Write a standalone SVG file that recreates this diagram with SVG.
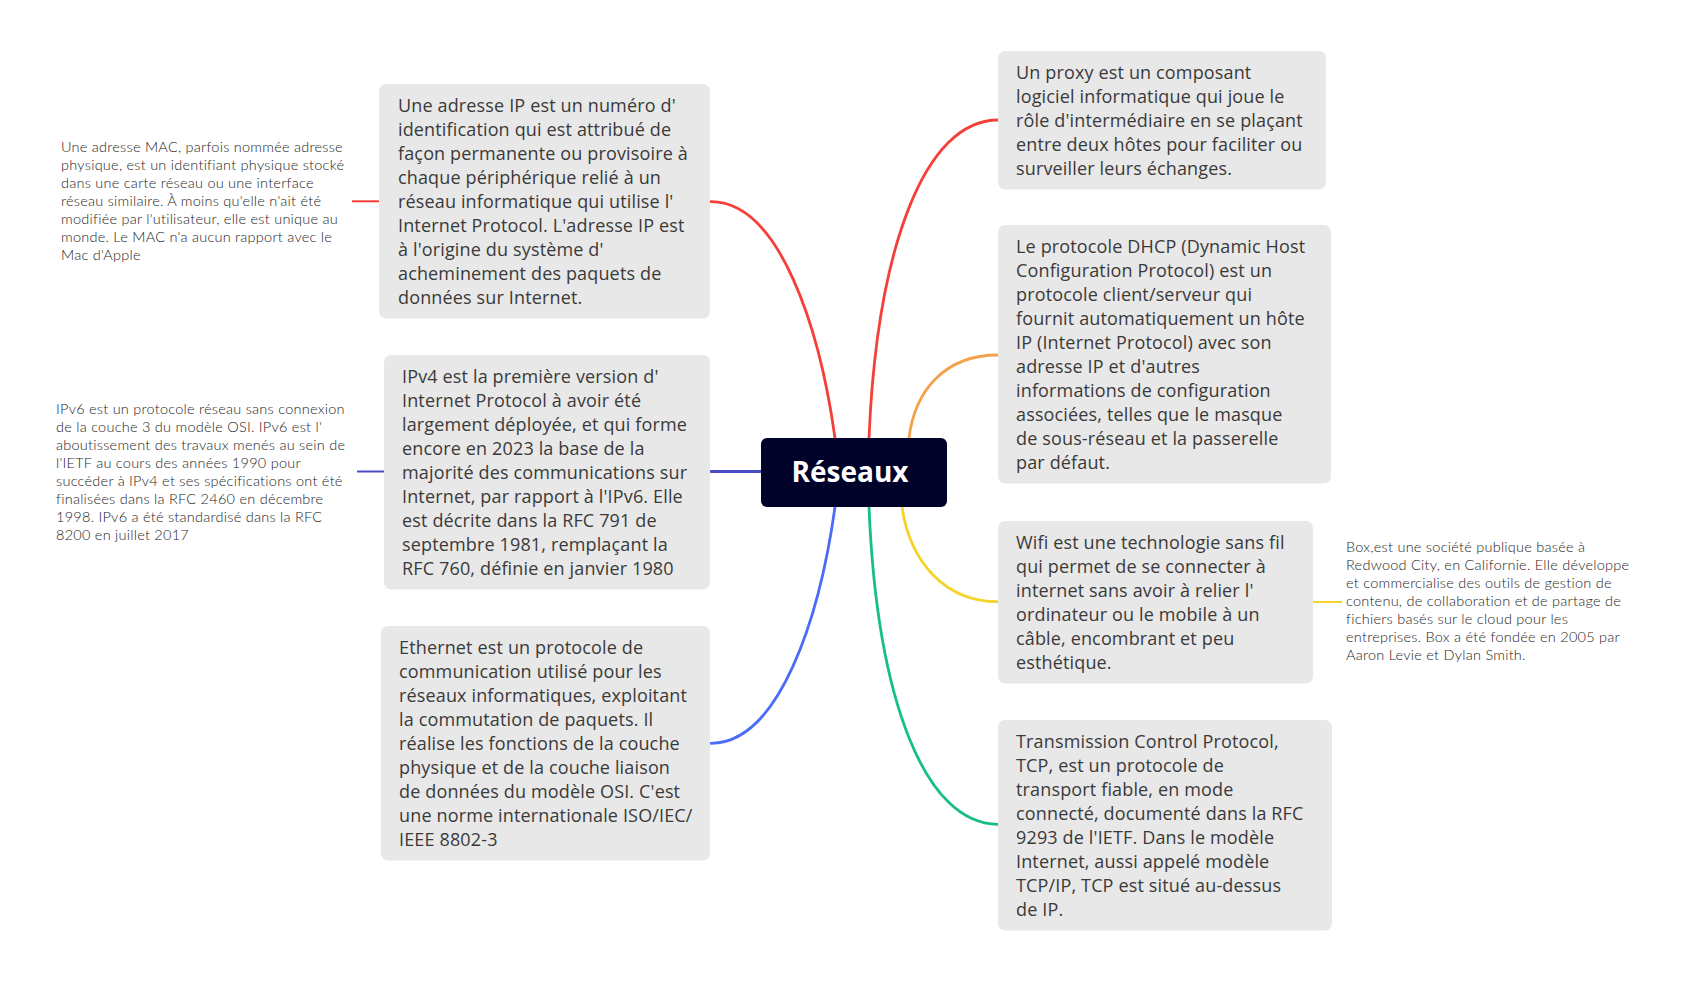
<svg xmlns="http://www.w3.org/2000/svg" width="1690" height="981" viewBox="0 0 1690 981">
<style>
.box{fill:#e8e8e8}
.t{font-family:"Open Sans","Liberation Sans",sans-serif;font-size:18px;letter-spacing:0.15px;fill:#3a3a3a}
.n{font-family:Lato,"Liberation Sans",sans-serif;font-weight:300;font-size:14.5px;letter-spacing:0.25px;fill:#1e1e1e}
.c{fill:none;stroke-width:2.8;stroke-linecap:round}
.s{fill:none;stroke-width:2}
</style>
<rect width="1690" height="981" fill="#ffffff"/>
<g id="connectors">
<path class="c" stroke="#f5403a" d="M835,438 C820,330 780,201.7 711,201.7"/>
<path class="c" stroke="#4b4bc4" d="M761,471.5 L711,471.5"/>
<path class="c" stroke="#4a6cf7" d="M835,507 C820,615 780,743.3 711,743.3"/>
<path class="c" stroke="#f5403a" d="M869,438 C877,247 925,120 998,120"/>
<path class="c" stroke="#f5a04a" d="M909,438 C915,390 945,355 998,355"/>
<path class="c" stroke="#f5d327" d="M902,507 C910,562 945,601.7 998,601.7"/>
<path class="c" stroke="#17c082" d="M869,507 C877,700 925,824.3 998,824.3"/>
<path class="s" stroke="#f5403a" d="M352,201.3 L379,201.3"/>
<path class="s" stroke="#4b4bc4" d="M357,471.5 L384,471.5"/>
<path class="s" stroke="#f5d327" d="M1313,602 L1342,602"/>
</g>
<g id="root">
<rect x="761" y="438" width="186" height="69" rx="6" fill="#000229"/>
<text x="850" y="482" text-anchor="middle" font-family="'Open Sans','Liberation Sans',sans-serif" font-weight="700" font-size="28" fill="#ffffff">Réseaux</text>
</g>
<g id="ip">
<rect class="box" x="379" y="84" width="331" height="234.5" rx="7"/>
<text class="t"><tspan x="398" y="111.5">Une adresse IP est un numéro d'</tspan><tspan x="398" y="135.5">identification qui est attribué de</tspan><tspan x="398" y="159.5">façon permanente ou provisoire à</tspan><tspan x="398" y="183.5">chaque périphérique relié à un</tspan><tspan x="398" y="207.5">réseau informatique qui utilise l'</tspan><tspan x="398" y="231.5">Internet Protocol. L'adresse IP est</tspan><tspan x="398" y="255.5">à l'origine du système d'</tspan><tspan x="398" y="279.5">acheminement des paquets de</tspan><tspan x="398" y="303.5">données sur Internet.</tspan></text>
</g>
<g id="mac">
<text class="n"><tspan x="61" y="152">Une adresse MAC, parfois nommée adresse</tspan><tspan x="61" y="170">physique, est un identifiant physique stocké</tspan><tspan x="61" y="188">dans une carte réseau ou une interface</tspan><tspan x="61" y="206">réseau similaire. À moins qu'elle n'ait été</tspan><tspan x="61" y="224">modifiée par l'utilisateur, elle est unique au</tspan><tspan x="61" y="242">monde. Le MAC n'a aucun rapport avec le</tspan><tspan x="61" y="260">Mac d'Apple</tspan></text>
</g>
<g id="ipv4">
<rect class="box" x="384" y="355" width="326" height="234.5" rx="7"/>
<text class="t"><tspan x="402" y="382.5">IPv4 est la première version d'</tspan><tspan x="402" y="406.5">Internet Protocol à avoir été</tspan><tspan x="402" y="430.5">largement déployée, et qui forme</tspan><tspan x="402" y="454.5">encore en 2023 la base de la</tspan><tspan x="402" y="478.5">majorité des communications sur</tspan><tspan x="402" y="502.5">Internet, par rapport à l'IPv6. Elle</tspan><tspan x="402" y="526.5">est décrite dans la RFC 791 de</tspan><tspan x="402" y="550.5">septembre 1981, remplaçant la</tspan><tspan x="402" y="574.5">RFC 760, définie en janvier 1980</tspan></text>
</g>
<g id="ipv6">
<text class="n"><tspan x="56" y="414">IPv6 est un protocole réseau sans connexion</tspan><tspan x="56" y="432">de la couche 3 du modèle OSI. IPv6 est l'</tspan><tspan x="56" y="450">aboutissement des travaux menés au sein de</tspan><tspan x="56" y="468">l'IETF au cours des années 1990 pour</tspan><tspan x="56" y="486">succéder à IPv4 et ses spécifications ont été</tspan><tspan x="56" y="504">finalisées dans la RFC 2460 en décembre</tspan><tspan x="56" y="522">1998. IPv6 a été standardisé dans la RFC</tspan><tspan x="56" y="540">8200 en juillet 2017</tspan></text>
</g>
<g id="ethernet">
<rect class="box" x="381" y="626" width="329" height="234.5" rx="7"/>
<text class="t"><tspan x="399" y="653.5">Ethernet est un protocole de</tspan><tspan x="399" y="677.5">communication utilisé pour les</tspan><tspan x="399" y="701.5">réseaux informatiques, exploitant</tspan><tspan x="399" y="725.5">la commutation de paquets. Il</tspan><tspan x="399" y="749.5">réalise les fonctions de la couche</tspan><tspan x="399" y="773.5">physique et de la couche liaison</tspan><tspan x="399" y="797.5">de données du modèle OSI. C'est</tspan><tspan x="399" y="821.5">une norme internationale ISO/IEC/</tspan><tspan x="399" y="845.5">IEEE 8802-3</tspan></text>
</g>
<g id="proxy">
<rect class="box" x="998" y="51" width="328" height="138.5" rx="7"/>
<text class="t"><tspan x="1016" y="78.5">Un proxy est un composant</tspan><tspan x="1016" y="102.5">logiciel informatique qui joue le</tspan><tspan x="1016" y="126.5">rôle d'intermédiaire en se plaçant</tspan><tspan x="1016" y="150.5">entre deux hôtes pour faciliter ou</tspan><tspan x="1016" y="174.5">surveiller leurs échanges.</tspan></text>
</g>
<g id="dhcp">
<rect class="box" x="998" y="225" width="333" height="258.5" rx="7"/>
<text class="t"><tspan x="1016" y="252.5">Le protocole DHCP (Dynamic Host</tspan><tspan x="1016" y="276.5">Configuration Protocol) est un</tspan><tspan x="1016" y="300.5">protocole client/serveur qui</tspan><tspan x="1016" y="324.5">fournit automatiquement un hôte</tspan><tspan x="1016" y="348.5">IP (Internet Protocol) avec son</tspan><tspan x="1016" y="372.5">adresse IP et d'autres</tspan><tspan x="1016" y="396.5">informations de configuration</tspan><tspan x="1016" y="420.5">associées, telles que le masque</tspan><tspan x="1016" y="444.5">de sous-réseau et la passerelle</tspan><tspan x="1016" y="468.5">par défaut.</tspan></text>
</g>
<g id="wifi">
<rect class="box" x="998" y="521" width="315" height="162.5" rx="7"/>
<text class="t"><tspan x="1016" y="548.5">Wifi est une technologie sans fil</tspan><tspan x="1016" y="572.5">qui permet de se connecter à</tspan><tspan x="1016" y="596.5">internet sans avoir à relier l'</tspan><tspan x="1016" y="620.5">ordinateur ou le mobile à un</tspan><tspan x="1016" y="644.5">câble, encombrant et peu</tspan><tspan x="1016" y="668.5">esthétique.</tspan></text>
</g>
<g id="box">
<text class="n"><tspan x="1346" y="552">Box,est une société publique basée à</tspan><tspan x="1346" y="570">Redwood City, en Californie. Elle développe</tspan><tspan x="1346" y="588">et commercialise des outils de gestion de</tspan><tspan x="1346" y="606">contenu, de collaboration et de partage de</tspan><tspan x="1346" y="624">fichiers basés sur le cloud pour les</tspan><tspan x="1346" y="642">entreprises. Box a été fondée en 2005 par</tspan><tspan x="1346" y="660">Aaron Levie et Dylan Smith.</tspan></text>
</g>
<g id="tcp">
<rect class="box" x="998" y="720" width="334" height="210.5" rx="7"/>
<text class="t"><tspan x="1016" y="747.5">Transmission Control Protocol,</tspan><tspan x="1016" y="771.5">TCP, est un protocole de</tspan><tspan x="1016" y="795.5">transport fiable, en mode</tspan><tspan x="1016" y="819.5">connecté, documenté dans la RFC</tspan><tspan x="1016" y="843.5">9293 de l'IETF. Dans le modèle</tspan><tspan x="1016" y="867.5">Internet, aussi appelé modèle</tspan><tspan x="1016" y="891.5">TCP/IP, TCP est situé au-dessus</tspan><tspan x="1016" y="915.5">de IP.</tspan></text>
</g>
</svg>
